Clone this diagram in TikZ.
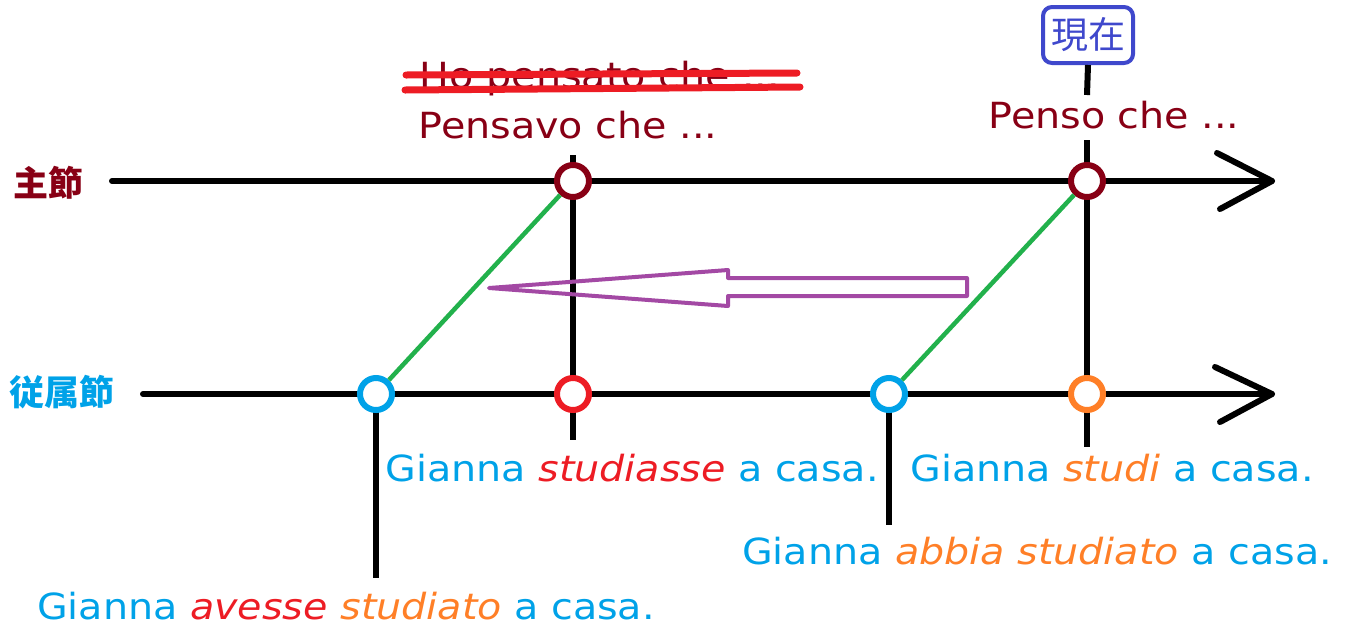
\documentclass[tikz,border=0pt]{standalone}
\usepackage{fontspec}
\setmainfont{DejaVu Sans}[FakeStretch=1.1]
\newfontfamily\jp{Noto Sans CJK JP}
\definecolor{dred}{HTML}{880015}
\definecolor{sky}{HTML}{00A2E8}
\definecolor{pred}{HTML}{ED1C24}
\definecolor{orng}{HTML}{FF7F27}
\definecolor{grn}{HTML}{22B14C}
\definecolor{purp}{HTML}{A349A4}
\definecolor{boxblue}{HTML}{3F48CC}
\begin{document}
\begin{tikzpicture}[x=1pt,y=-1pt,
  axis/.style={line width=6pt,line cap=round,line join=round,black},
  tick/.style={line width=6pt,black},
  dot/.style={circle,draw=#1,fill=white,line width=6pt,minimum size=32pt,inner sep=0pt},
  link/.style={line width=4.5pt,grn},
  txt/.style={font=\fontsize{36}{40}\selectfont,inner sep=0pt,anchor=base},
  jlab/.style={font=\jp\bfseries\fontsize{35}{40}\selectfont,inner sep=0pt}
]
\useasboundingbox (0,0) rectangle (1349,625);
% axes
\coordinate (m0) at (112,181);
\coordinate (m1) at (1272,181);
\coordinate (s0) at (143,394);
\coordinate (s1) at (1272,394);
\draw[axis] (m0) -- (m1);
\draw[axis] (1217,153) -- (m1) -- (1220,209);
\draw[axis] (s0) -- (s1);
\draw[axis] (1215,367) -- (s1) -- (1220,422);
% now box
\node[draw=boxblue,line width=4pt,rounded corners=9pt,minimum width=90pt,minimum height=56pt,inner sep=0pt,
  font=\jp\fontsize{37}{40}\selectfont,text=boxblue] (now) at (1088,35) {現在};
% vertical lines
\coordinate (v1top) at (573,155);
\coordinate (v1bot) at (573,440);
\coordinate (v2a) at (1087,95);
\coordinate (v2top) at (1087,140);
\coordinate (v2bot) at (1087,447);
\coordinate (v3bot) at (376,578);
\coordinate (v4bot) at (889,525);
\draw[tick] (now.south) -- (v2a);
\draw[tick] (v1top) -- (v1bot);
\draw[tick] (v2top) -- (v2bot);
\draw[tick] (376,394) -- (v3bot);
\draw[tick] (889,394) -- (v4bot);
% circles
\node[dot=dred] (pm) at (573,181) {};
\node[dot=dred] (nm) at (1087,181) {};
\node[dot=sky] (ps) at (376,394) {};
\node[dot=pred] (pc) at (573,394) {};
\node[dot=sky] (ns) at (889,394) {};
\node[dot=orng] (nc) at (1087,394) {};
% green links
\draw[link] (ps) -- (pm);
\draw[link] (ns) -- (nm);
% purple arrow
\draw[purp,line width=4pt,line join=round] (967,278) -- (728,278) -- (728,270) -- (489,288) -- (728,306) -- (728,296) -- (967,296) -- cycle;
% labels
\node[jlab,text=dred] (main) at (48,183) {主節};
\node[jlab,text=sky] (sub) at (62,392) {従属節};
\node[txt,text=dred] (ho) at (600,88) {Ho pensato che ...};
\draw[pred,line width=7pt,line cap=round] (406,75) -- (797,73);
\draw[pred,line width=7pt,line cap=round] (405,90) -- (800,87);
\node[txt,text=dred] (pensavo) at (568,138) {Pensavo che ...};
\node[txt,text=dred] (penso) at (1114,128) {Penso che ...};
\node[txt,text=sky] (t1) at (632,481) {Gianna \textcolor{pred}{\itshape studiasse} a casa.};
\node[txt,text=sky] (t2) at (1112,481) {Gianna \textcolor{orng}{\itshape studi} a casa.};
\node[txt,text=sky] (t3) at (1037,564) {Gianna \textcolor{orng}{\itshape abbia studiato} a casa.};
\node[txt,text=sky] (t4) at (346,619) {Gianna \textcolor{pred}{\itshape avesse} \textcolor{orng}{\itshape studiato} a casa.};
\end{tikzpicture}
\end{document}
